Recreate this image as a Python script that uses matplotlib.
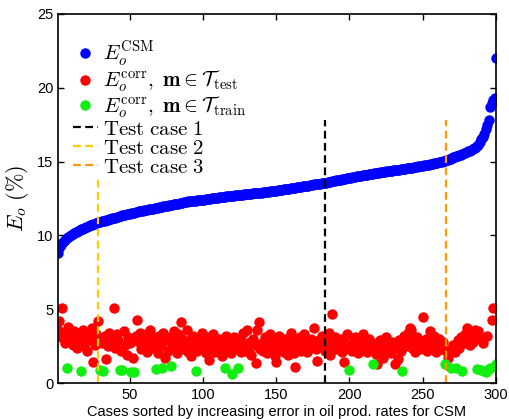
import numpy as np
import matplotlib
matplotlib.use("Agg")
import matplotlib.pyplot as plt

plt.rcParams['mathtext.fontset'] = 'cm'
plt.rcParams['font.family'] = ['Liberation Sans', 'DejaVu Sans']

# E_o of the coarse scale model, sorted (cases 1..300)
csm_err = [
    8.8, 9.15, 9.35, 9.5, 9.6, 9.7, 9.8, 9.88, 9.95, 10.02,
    10.08, 10.14, 10.2, 10.25, 10.3, 10.35, 10.4, 10.45, 10.5, 10.55,
    10.6, 10.64, 10.68, 10.72, 10.76, 10.8, 10.85, 10.88, 10.9, 10.92,
    10.95, 10.98, 11.0, 11.03, 11.06, 11.09, 11.12, 11.15, 11.18, 11.21,
    11.23, 11.26, 11.29, 11.32, 11.35, 11.37, 11.4, 11.42, 11.45, 11.48,
    11.5, 11.52, 11.55, 11.57, 11.6, 11.62, 11.64, 11.66, 11.68, 11.7,
    11.72, 11.74, 11.76, 11.78, 11.8, 11.82, 11.84, 11.86, 11.88, 11.9,
    11.92, 11.94, 11.96, 11.98, 12.0, 12.02, 12.04, 12.06, 12.08, 12.1,
    12.12, 12.14, 12.16, 12.18, 12.2, 12.22, 12.24, 12.26, 12.28, 12.3,
    12.31, 12.32, 12.33, 12.34, 12.36, 12.37, 12.38, 12.4, 12.41, 12.42,
    12.43, 12.45, 12.46, 12.48, 12.5, 12.51, 12.52, 12.54, 12.55, 12.56,
    12.58, 12.59, 12.6, 12.62, 12.63, 12.64, 12.65, 12.67, 12.68, 12.69,
    12.7, 12.71, 12.72, 12.74, 12.75, 12.76, 12.77, 12.78, 12.79, 12.8,
    12.81, 12.82, 12.83, 12.84, 12.85, 12.86, 12.87, 12.88, 12.89, 12.9,
    12.92, 12.93, 12.94, 12.96, 12.97, 12.98, 13.0, 13.01, 13.02, 13.04,
    13.05, 13.07, 13.08, 13.1, 13.11, 13.13, 13.14, 13.16, 13.17, 13.19,
    13.2, 13.22, 13.23, 13.25, 13.27, 13.28, 13.3, 13.32, 13.33, 13.35,
    13.36, 13.38, 13.4, 13.41, 13.43, 13.45, 13.46, 13.48, 13.5, 13.51,
    13.53, 13.55, 13.57, 13.58, 13.6, 13.62, 13.64, 13.66, 13.68, 13.7,
    13.72, 13.74, 13.76, 13.78, 13.8, 13.82, 13.84, 13.86, 13.88, 13.9,
    13.92, 13.94, 13.96, 13.98, 14.0, 14.02, 14.03, 14.05, 14.07, 14.09,
    14.1, 14.12, 14.14, 14.15, 14.17, 14.19, 14.2, 14.22, 14.24, 14.25,
    14.27, 14.28, 14.3, 14.31, 14.33, 14.34, 14.36, 14.37, 14.39, 14.4,
    14.42, 14.43, 14.45, 14.46, 14.48, 14.49, 14.51, 14.52, 14.54, 14.55,
    14.57, 14.58, 14.6, 14.62, 14.63, 14.65, 14.67, 14.68, 14.7, 14.72,
    14.74, 14.76, 14.78, 14.8, 14.82, 14.84, 14.86, 14.88, 14.9, 14.92,
    14.94, 14.97, 15.0, 15.03, 15.06, 15.09, 15.12, 15.16, 15.2, 15.24,
    15.28, 15.32, 15.36, 15.4, 15.44, 15.48, 15.52, 15.56, 15.6, 15.65,
    15.7, 15.75, 15.8, 15.85, 15.9, 15.95, 16.05, 16.15, 16.3, 16.5,
    16.7, 16.9, 17.2, 17.5, 17.8, 18.7, 19.0, 19.2, 19.3, 22.0,
]

# training cases (case index and corrected error)
train_idx = [7, 17, 30, 32, 43, 45, 51, 53, 68, 72, 78, 95, 115, 120, 124,
             200, 216, 236, 265, 269, 273, 277, 287, 290, 292, 293, 295, 296, 299, 300]
train_err = [1.0, 0.82, 0.88, 0.8, 0.9, 0.9, 0.72, 0.77, 0.98, 1.02, 1.12, 0.82, 1.05, 0.64, 1.0,
             0.9, 1.27, 0.8, 1.28, 1.02, 1.02, 0.78, 0.95, 0.88, 0.8, 0.76, 0.95, 1.0, 1.12, 1.27]

# corrected error for the test cases (all remaining case indices, in order)
test_err = [
    3.6, 4.2, 3.1, 5.1, 3.4, 2.7, 3.8, 2.9, 3.3,
    2.6, 3.5, 3.0, 2.4, 3.2, 2.8, 3.6, 2.5, 3.1,
    2.2, 3.4, 2.9, 3.7, 1.45, 2.6, 3.3, 4.2, 3.0,
    2.7, 3.2, 1.65, 2.5, 3.4, 3.0, 2.8, 5.05, 2.4,
    3.3, 2.9, 2.2, 3.5, 2.6, 1.9, 3.1, 2.7,
    1.7, 3.2, 4.3, 2.8, 3.4, 2.3, 3.0, 2.5,
    3.3, 2.1, 2.9, 3.6, 2.4, 3.1, 2.7, 2.0, 3.2,
    2.6, 3.4, 1.7, 2.9, 2.2, 3.1, 2.5, 3.5,
    2.8, 2.0, 3.3, 2.4, 4.1, 3.0, 2.3, 2.7, 3.6, 2.1,
    2.9, 1.8, 3.2, 2.5, 2.2, 3.0, 2.6, 3.4, 2.3,
    2.8, 2.0, 3.1, 1.55, 2.7, 2.4, 3.3, 2.1, 2.9, 2.5,
    3.0, 2.2, 1.8, 2.6, 3.2, 2.4, 2.8, 2.0,
    3.1, 2.5, 2.3, 2.9, 2.1, 3.4, 2.7, 2.2, 3.6,
    2.4, 2.8, 1.9, 3.0, 2.6, 1.35, 3.6, 4.1, 2.3, 2.7,
    2.2, 3.1, 2.5, 2.0, 2.8, 3.3, 2.4, 2.9, 1.8, 1.4,
    2.6, 3.2, 2.3, 2.7, 2.1, 3.0, 2.5, 1.9, 2.8, 3.4,
    2.4, 2.0, 1.1, 2.9, 2.6, 3.1, 2.2, 2.7, 3.3, 2.5,
    2.1, 2.8, 2.4, 3.0, 2.6, 3.75, 2.3, 1.5, 2.9, 2.5,
    3.2, 2.7, 2.2, 2.9, 2.4, 3.4, 1.9, 4.7, 2.6, 3.1,
    2.3, 2.8, 2.5, 3.0, 2.1, 1.45, 2.7, 3.3, 2.4,
    2.6, 2.2, 2.9, 3.1, 2.4, 2.0, 2.8, 2.5, 3.3, 2.3,
    2.7, 2.1, 3.0, 2.5, 2.8, 2.3, 1.95, 1.3, 2.6,
    2.9, 2.2, 1.7, 2.5, 3.1, 2.4, 2.7, 2.0, 2.8, 2.3,
    1.3, 2.6, 1.6, 2.9, 2.2, 3.2, 2.5, 2.8, 3.4,
    3.75, 3.6, 2.4, 2.9, 2.1, 3.1, 2.6, 2.3, 2.8, 4.5,
    2.7, 3.0, 2.2, 2.5, 3.5, 2.9, 2.4, 3.2, 2.1, 2.7,
    3.0, 2.6, 2.3, 2.8, 2.2, 1.7, 2.05, 2.4,
    2.6, 2.1, 2.9, 2.4, 3.1, 2.7, 3.3, 3.7,
    3.0, 2.6, 3.4, 2.8, 3.2, 3.6, 3.55, 3.0,
    2.7, 3.2, 4.3, 5.1,
]

# highlighted test cases
case_labels = ['Test case 1', 'Test case 2', 'Test case 3']
case_idx = [183, 28, 266]
case_top = [17.8, 13.9, 17.8]
case_colors = ['black', '#ffcc00', '#ff9900']

n_cases = len(csm_err)
cases = np.arange(1, n_cases + 1)
test_idx = [i for i in cases if i not in train_idx]

fig = plt.figure(figsize=(5.10, 4.19), dpi=100)
ax = fig.add_axes([0.1137, 0.0859, 0.8588, 0.8807])

ms = 7.5
ax.plot(cases, csm_err, 'o', color='blue', ms=ms, mew=0,
        label=r'$E_o^{\mathrm{CSM}}$')
ax.plot(test_idx, test_err, 'o', color='red', ms=ms, mew=0,
        label=r'$E_o^{\mathrm{corr}},\ \mathbf{m}\in\mathcal{T}_{\mathrm{test}}$')
ax.plot(train_idx, train_err, 'o', color='#11ee11', ms=ms, mew=0,
        label=r'$E_o^{\mathrm{corr}},\ \mathbf{m}\in\mathcal{T}_{\mathrm{train}}$')

for lab, xi, top, col in zip(case_labels, case_idx, case_top, case_colors):
    ax.plot([xi, xi], [0, top], color=col, lw=1.6, dashes=(3.5, 2),
            label=r'$\mathrm{' + lab.replace(' ', r'\ ') + '}$')

ax.set_xlim(1, 300)
ax.set_ylim(0, 25)
ax.set_xticks([50, 100, 150, 200, 250, 300])
ax.set_yticks([0, 5, 10, 15, 20, 25])
ax.tick_params(direction='in', length=4, width=1, top=True, right=True, labelsize=10.5)
for s in ax.spines.values():
    s.set_linewidth(1.2)

ax.set_xlabel('Cases sorted by increasing error in oil prod. rates for CSM', fontsize=10.5, labelpad=2)
ax.set_ylabel(r'$E_o\ (\%)$', fontsize=16, labelpad=4)

leg = ax.legend(loc='upper left', bbox_to_anchor=(0.0, 0.97), frameon=False,
                fontsize=15, labelspacing=0.0, handlelength=1.2, handletextpad=0.25,
                borderpad=0.2, markerscale=1.0)

fig.savefig('out.png', dpi=100)
